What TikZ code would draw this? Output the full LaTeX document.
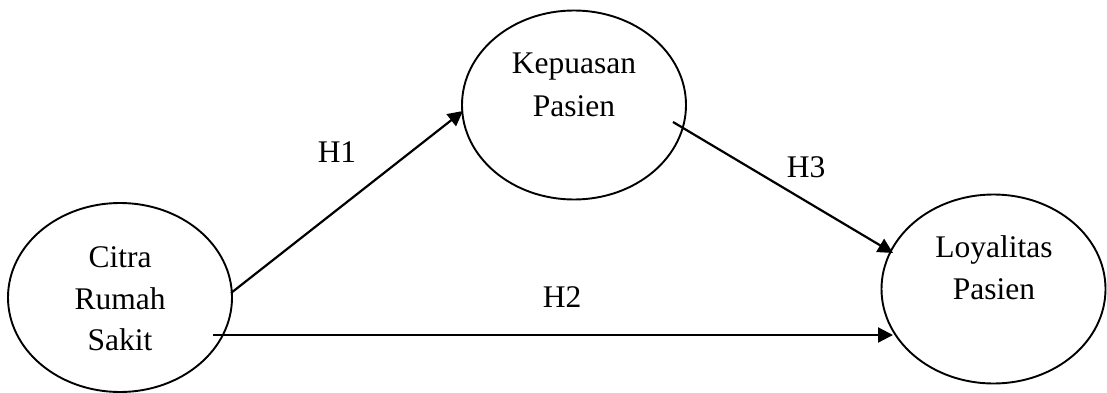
\documentclass[tikz,border=0pt]{standalone}
\usepackage{fontspec}
\setmainfont{Liberation Serif}
\usetikzlibrary{arrows.meta,calc,shapes.geometric}
\begin{document}
\begin{tikzpicture}[x=1pt,y=-1pt,
  construct/.style={draw, line width=1.9pt, ellipse, inner sep=0pt,
                    minimum width=224pt, minimum height=189pt},
  word/.style={anchor=base, inner sep=0pt, font=\fontsize{31.5}{38}\selectfont},
  path/.style={line width=2.2pt, -{Triangle[length=15pt,width=15pt]}}]
  \useasboundingbox (0,0) rectangle (1107,393);

  % latent constructs
  \node[construct] (citra) at (120,297.5) {};
  \node[construct] (kep)   at (574,105)   {};
  \node[construct] (loy)   at (993.5,289) {};

  % construct names
  \node[word] (c1) at (120,267) {Citra};
  \node[word] (c2) at (120,309) {Rumah};
  \node[word] (c3) at (120,350) {Sakit};
  \node[word] (k1) at (574,74)  {Kepuasan};
  \node[word] (k2) at (574,117) {Pasien};
  \node[word] (l1) at (994,257) {Loyalitas};
  \node[word] (l2) at (994,299) {Pasien};

  % hypothesised paths
  \draw[path] ($(citra)+(111,-4.5)$) -- ($(kep)+(-111,6)$);
  \draw[path] ($(kep)+(99,17)$) -- ($(loy)+(-100.5,-36)$);
  \draw[path] ($(citra)+(93,37.5)$) -- ($(loy)+(-100.5,46)$);

  % path labels
  \node[word] (h1) at (337,162) {H1};
  \node[word] (h3) at (806,177) {H3};
  \node[word] (h2) at (562,307) {H2};
\end{tikzpicture}
\end{document}
